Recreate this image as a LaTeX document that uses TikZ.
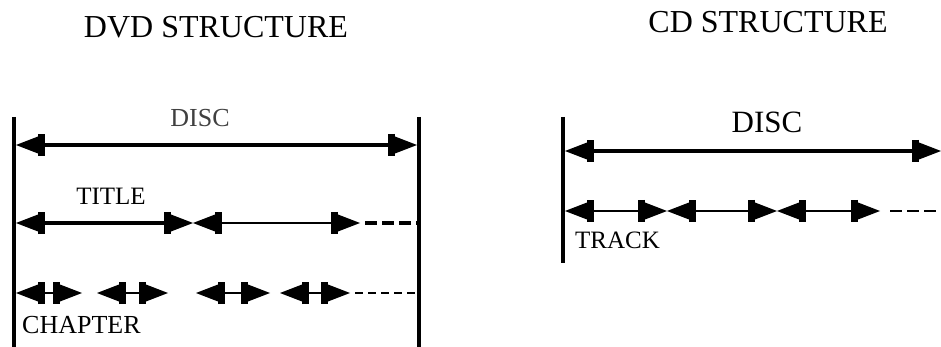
\documentclass[tikz,border=0pt]{standalone}
\usepackage{fontspec}
\setmainfont{Liberation Serif}
\usetikzlibrary{arrows.meta}
\tikzset{
  hd/.tip={Bar[width=22pt,line width=7pt,sep=0pt]Triangle[length=22pt,width=17pt,line width=0pt]},
  vline/.style={line width=4.5pt},
  seg/.style={{hd}-{hd}, line width=2pt},
  bigseg/.style={{hd}-{hd}, line width=3.6pt},
  dashA/.style={line width=3.4pt, dash pattern=on 12pt off 5pt},
  dashB/.style={line width=1.6pt, dash pattern=on 8pt off 5pt},
  dashC/.style={line width=1.8pt, dash pattern=on 12pt off 5pt},
  head/.style={font=\fontsize{32}{36}\selectfont, anchor=base, inner sep=0pt},
  lab/.style={font=\fontsize{25}{30}\selectfont, inner sep=0pt},
}
\begin{document}
\begin{tikzpicture}[x=1pt,y=-1pt]
\useasboundingbox (0,0) rectangle (941,347);
% headings
\node[head] (hdvd) at (216,38) {DVD STRUCTURE};
\node[head] (hcd) at (768,33) {CD STRUCTURE};
% DVD verticals
\coordinate (dL1) at (14,117); \coordinate (dL2) at (14,347);
\coordinate (dR1) at (419,117); \coordinate (dR2) at (419,347);
\draw[vline] (dL1) -- (dL2);
\draw[vline] (dR1) -- (dR2);
% DVD disc
\node[lab, anchor=base, text=black!75, font=\fontsize{26}{30}\selectfont] (ldisc) at (200,127) {DISC};
\coordinate (a0) at (16,145); \coordinate (a1) at (417,145);
\draw[bigseg, line width=4pt] (a0) -- (a1);
% DVD title
\node[lab, anchor=base] (ltitle) at (111,205) {TITLE};
\coordinate (t0) at (16,223); \coordinate (t1) at (193,223);
\coordinate (t2) at (360,223); \coordinate (t3) at (365,223); \coordinate (t4) at (417,223);
\draw[bigseg] (t0) -- (t1);
\draw[seg] (t1) -- (t2);
\draw[dashA] (t3) -- (t4);
% DVD chapter
\coordinate (c0) at (16,293); \coordinate (c1) at (82,293);
\coordinate (c2) at (97,293); \coordinate (c3) at (168,293);
\coordinate (c4) at (196,293); \coordinate (c5) at (270,293);
\coordinate (c6) at (280,293); \coordinate (c7) at (350,293);
\coordinate (c8) at (355,293); \coordinate (c9) at (415,293);
\draw[seg] (c0) -- (c1);
\draw[seg] (c2) -- (c3);
\draw[seg] (c4) -- (c5);
\draw[seg] (c6) -- (c7);
\draw[dashB] (c8) -- (c9);
\node[lab, anchor=base west, font=\fontsize{26}{30}\selectfont] (lchap) at (22,333) {CHAPTER};
% CD
\coordinate (e1) at (563,117); \coordinate (e2) at (563,263);
\draw[vline] (e1) -- (e2);
\node[lab, anchor=base, font=\fontsize{31}{36}\selectfont] (lcdisc) at (767,133) {DISC};
\coordinate (b0) at (565,151); \coordinate (b1) at (941,151);
\draw[bigseg] (b0) -- (b1);
\coordinate (k0) at (565,211); \coordinate (k1) at (667,211);
\coordinate (k2) at (777,211); \coordinate (k3) at (880,211);
\coordinate (k4) at (890,211); \coordinate (k5) at (941,211);
\draw[seg] (k0) -- (k1);
\draw[seg] (k1) -- (k2);
\draw[seg] (k2) -- (k3);
\draw[dashC] (k4) -- (k5);
\node[lab, anchor=base west] (ltrack) at (575,248) {TRACK};
\end{tikzpicture}
\end{document}
